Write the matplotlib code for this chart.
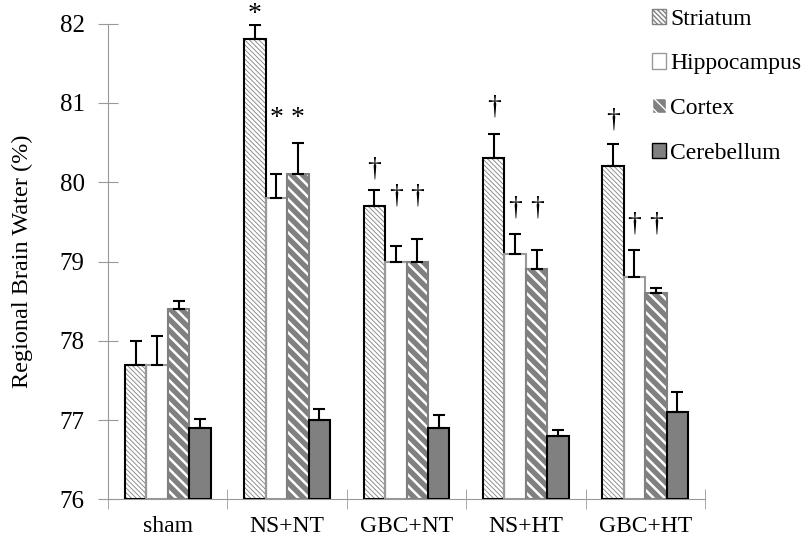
import numpy as np
import matplotlib.pyplot as plt
import matplotlib as mpl
from matplotlib.patches import Patch

plt.rcParams['font.family'] = ['Liberation Serif', 'DejaVu Serif']

# Data
groups = ['sham', 'NS+NT', 'GBC+NT', 'NS+HT', 'GBC+HT']
regions = ['Striatum', 'Hippocampus', 'Cortex', 'Cerebellum']
striatum = [77.7, 81.8, 79.7, 80.3, 80.2]
hippocampus = [77.7, 79.8, 79.0, 79.1, 78.8]
cortex = [78.4, 80.1, 79.0, 78.9, 78.6]
cerebellum = [76.9, 77.0, 76.9, 76.8, 77.1]
striatum_err = [0.30, 0.18, 0.20, 0.31, 0.28]
hippocampus_err = [0.36, 0.30, 0.20, 0.25, 0.35]
cortex_err = [0.10, 0.40, 0.28, 0.24, 0.07]
cerebellum_err = [0.12, 0.14, 0.16, 0.08, 0.25]
# significance marks per group (striatum, hippocampus, cortex) and their levels
marks = ['', '*', '\u2020', '\u2020', '\u2020']
mark_level_striatum = [None, 82.12, 80.17, 80.95, 80.79]
mark_level_hc = [None, 80.80, 79.82, 79.67, 79.47]

values = [striatum, hippocampus, cortex, cerebellum]
errors = [striatum_err, hippocampus_err, cortex_err, cerebellum_err]

# Styles: (face, hatch, hatch colour, edge colour, hatch linewidth)
styles = [
    ('white', '\\\\\\\\\\\\\\', '#808080', 'black', 0.6),
    ('white', None, 'white', '#999999', 1.0),
    ('#808080', '\\\\\\', 'white', '#808080', 1.8),
    ('#808080', None, '#808080', 'black', 1.0),
]

fig = plt.figure(figsize=(8.01, 5.37), dpi=100)
ax = fig.add_axes([0.135, 0.07, 0.745, 0.886])

x = np.arange(len(groups))
w = 0.18
offsets = (np.arange(4) - 1.5) * w

for vals, errs, off, (face, hatch, hcol, ecol, hlw) in zip(values, errors, offsets, styles):
    with mpl.rc_context({'hatch.linewidth': hlw}):
        ax.bar(x + off, np.array(vals) - 76, w, bottom=76, color=face, hatch=hatch,
               edgecolor=hcol, linewidth=0, zorder=2)
    ax.bar(x + off, np.array(vals) - 76, w, bottom=76, fill=False,
           edgecolor=ecol, linewidth=1.5, zorder=3)
    ax.errorbar(x + off, vals, yerr=[np.zeros(len(errs)), errs], fmt='none',
                ecolor='black', elinewidth=1.5, capsize=4, capthick=1.5, zorder=4)

# significance markers
for i, m in enumerate(marks):
    if not m:
        continue
    fs = 20 if m == '*' else 20
    ax.text(x[i] + offsets[0], mark_level_striatum[i], m, ha='center', va='center',
            fontsize=fs, clip_on=False)
    for k in (1, 2):
        ax.text(x[i] + offsets[k], mark_level_hc[i], m, ha='center', va='center',
                fontsize=fs, clip_on=False)

ax.set_ylim(76, 82)
ax.set_xlim(-0.5, len(groups) - 0.5)
ax.set_yticks(np.arange(76, 83, 1))
ax.set_xticks(x)
ax.set_xticklabels(groups, fontsize=17)
ax.set_xticks(np.arange(-0.5, len(groups)), minor=True)
ax.tick_params(axis='x', which='major', length=0, pad=12)
ax.tick_params(axis='x', which='minor', direction='inout', length=14, color='#999999')
ax.tick_params(axis='y', direction='inout', length=14, color='#999999', labelsize=18, pad=10)
ax.set_ylabel('Regional Brain Water (%)', fontsize=17.5, labelpad=19)

for side in ('top', 'right'):
    ax.spines[side].set_visible(False)
for side in ('left', 'bottom'):
    ax.spines[side].set_color('#999999')

handles = []
for (face, hatch, hcol, ecol, hlw), name in zip(styles, regions):
    handles.append(Patch(facecolor=face, hatch=hatch, edgecolor=hcol if hatch else ecol, label=name))
leg = fig.legend(handles=handles, loc='upper left', bbox_to_anchor=(0.796, 1.01), frameon=False,
                 fontsize=17, handlelength=0.62, handleheight=0.62, handletextpad=0.15,
                 labelspacing=1.0, borderaxespad=0.2)

fig.savefig('out.png', dpi=100)
